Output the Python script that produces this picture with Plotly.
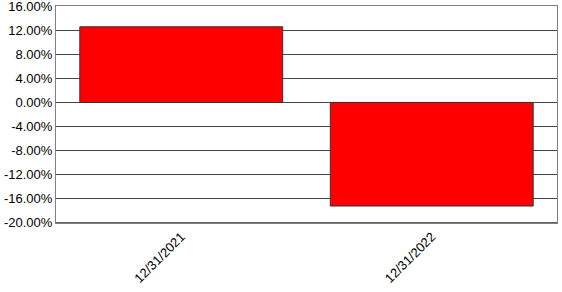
import plotly.graph_objects as go

categories = ["12/31/2021", "12/31/2022"]
values = [12.57, -17.2]
y_ticks = [16, 12, 8, 4, 0, -4, -8, -12, -16, -20]

fig = go.Figure()
fig.add_trace(go.Bar(
    x=categories, y=values,
    marker=dict(color="#ff0000", line=dict(color="#333333", width=1)),
))

fig.update_layout(
    width=562, height=292,
    margin=dict(l=56, r=5, t=6, b=69),
    paper_bgcolor="white", plot_bgcolor="white",
    bargap=0.19,
    showlegend=False,
    font=dict(family="Liberation Sans, Arial, sans-serif", size=13, color="#000000"),
)
fig.update_yaxes(
    range=[-20.02, 16.02], tickvals=y_ticks,
    ticktext=[f"{v:.2f}%" for v in y_ticks],
    ticklabeloverflow="allow", automargin=False,
    showgrid=True, gridcolor="#444444", gridwidth=1,
    zeroline=False,
    showline=True, linecolor="#808080", linewidth=1, mirror=True,
    ticks="", ticklen=0,
)
fig.update_xaxes(
    tickangle=-45, automargin=False,
    showline=True, linecolor="#808080", linewidth=1, mirror=True,
    ticks="", showgrid=False,
    tickfont=dict(size=13),
)
fig.add_hline(y=-20, line=dict(color="#000000", width=1))

fig.write_html("out.html")
